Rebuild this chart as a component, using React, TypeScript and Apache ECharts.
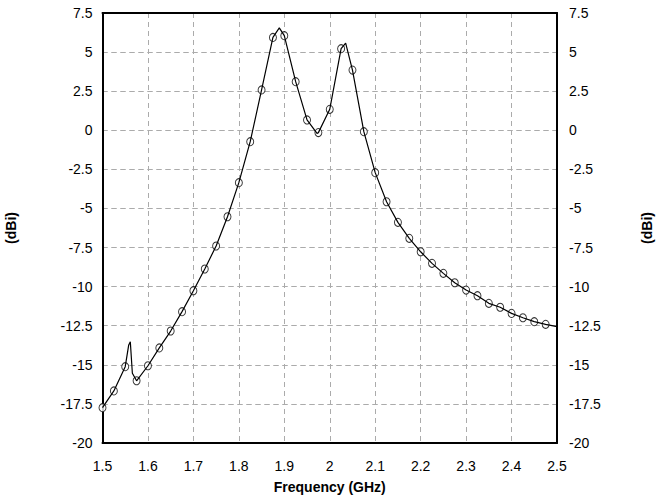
import React, { useEffect, useRef } from "react";
import * as echarts from "echarts";

// Marker points (GHz, dBi)
const markerFreq = [
  1.5, 1.525, 1.55, 1.575, 1.6, 1.625, 1.65, 1.675, 1.7, 1.725,
  1.75, 1.775, 1.8, 1.825, 1.85, 1.875, 1.9, 1.925, 1.95, 1.975,
  2.0, 2.025, 2.05, 2.075, 2.1, 2.125, 2.15, 2.175, 2.2, 2.225,
  2.25, 2.275, 2.3, 2.325, 2.35, 2.375, 2.4, 2.425, 2.45, 2.475,
];
const markerGain = [
  -17.74, -16.67, -15.12, -16.02, -15.06, -13.92, -12.84, -11.6, -10.26, -8.87,
  -7.4, -5.53, -3.35, -0.73, 2.58, 5.94, 6.05, 3.11, 0.66, -0.15,
  1.34, 5.22, 3.85, -0.09, -2.71, -4.57, -5.89, -6.91, -7.77, -8.51,
  -9.15, -9.75, -10.22, -10.58, -11.07, -11.32, -11.71, -11.99, -12.24, -12.41,
];
// Extra curve points between markers (spike and peaks)
const extraFreq = [1.5577, 1.5612, 1.5657, 1.889, 1.972, 2.035, 2.5];
const extraGain = [-13.73, -13.52, -15.54, 6.55, -0.2, 5.58, -12.56];

const xTicks = { min: 1.5, max: 2.5, interval: 0.1 };
const yTicks = { min: -20, max: 7.5, interval: 2.5 };

const FONT = "'Liberation Sans', Arial, sans-serif";

export default function App() {
  const ref = useRef<HTMLDivElement>(null);
  useEffect(() => {
    if (!ref.current) return;
    const chart = echarts.init(ref.current, undefined, { renderer: "svg" });
    const markers = markerFreq.map((f, i) => [f, markerGain[i]]);
    const curve = markers
      .concat(extraFreq.map((f, i) => [f, extraGain[i]]))
      .sort((a, b) => a[0] - b[0]);

    const labelStyle = { color: "#000", fontSize: 14, fontFamily: FONT };
    const gridLine = {
      show: true,
      lineStyle: { color: "#ababab", type: [5, 4] as any, width: 1 },
    };
    const blackLine = { show: true, onZero: false, lineStyle: { color: "#000", width: 2 } };
    const yCommon = {
      type: "value" as const,
      min: yTicks.min,
      max: yTicks.max,
      interval: yTicks.interval,
      name: "(dBi)",
      nameLocation: "middle" as const,
      nameRotate: 90,
      nameTextStyle: { color: "#000", fontSize: 14, fontWeight: "bold" as const, fontFamily: FONT },
      axisLine: blackLine,
      axisTick: { show: false },
      splitLine: gridLine,
    };

    chart.setOption({
      animation: false,
      backgroundColor: "#fff",
      grid: {
        left: 102.5,
        right: 101,
        top: 13,
        bottom: 58,
        show: false,
        containLabel: false,
        outerBoundsMode: "none",
      },
      xAxis: [
        {
          type: "value",
          min: xTicks.min,
          max: xTicks.max,
          interval: xTicks.interval,
          name: "Frequency (GHz)",
          nameLocation: "middle",
          nameGap: 37,
          nameTextStyle: { color: "#000", fontSize: 14, fontWeight: "bold", fontFamily: FONT },
          axisLine: blackLine,
          axisTick: { show: false },
          axisLabel: { ...labelStyle, margin: 16 },
          splitLine: gridLine,
        },
        {
          type: "value",
          position: "top",
          min: xTicks.min,
          max: xTicks.max,
          interval: xTicks.interval,
          axisLine: blackLine,
          axisTick: { show: false },
          axisLabel: { show: false },
          splitLine: { show: false },
        },
      ],
      yAxis: [
        {
          ...yCommon,
          position: "left",
          nameGap: 85,
          axisLabel: { ...labelStyle, margin: 10 },
        },
        {
          ...yCommon,
          position: "right",
          nameGap: 83,
          axisLabel: { ...labelStyle, margin: 12, align: "left" },
        },
      ],
      series: [
        {
          type: "scatter",
          data: markers,
          symbol: "circle",
          symbolSize: [7, 8],
          itemStyle: { color: "#fff", borderColor: "#000", borderWidth: 1 },
          z: 2,
          silent: true,
        },
        {
          type: "line",
          data: curve,
          showSymbol: false,
          symbol: "none",
          lineStyle: { color: "#000", width: 1.2 },
          z: 3,
          silent: true,
        },
      ],
    });
    return () => chart.dispose();
  }, []);
  return (
    <div
      ref={ref}
      style={{ position: "absolute", left: 0, top: 0, width: 658, height: 501 }}
    />
  );
}
